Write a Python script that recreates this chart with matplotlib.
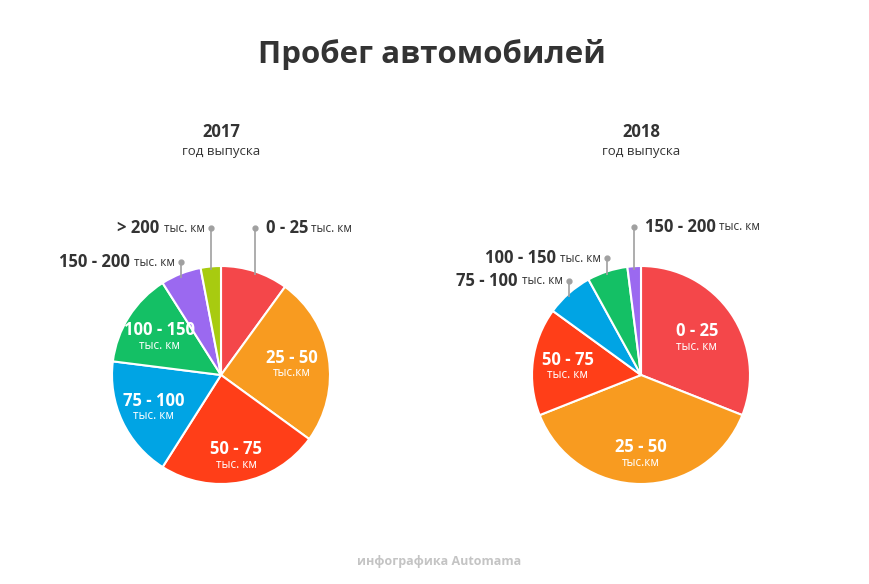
import matplotlib
matplotlib.use("Agg")
import matplotlib.pyplot as plt
import numpy as np

plt.rcParams["font.family"] = ["Open Sans", "DejaVu Sans"]

W, H = 870, 584

# --- data (share of cars, %) ---
ranges = ["0 - 25", "25 - 50", "50 - 75", "75 - 100", "100 - 150", "150 - 200", "> 200"]
units = ["тыс. км", "тыс.км", "тыс. км", "тыс. км", "тыс. км", "тыс. км", "тыс. км"]
share_2017 = [10, 25, 24, 18, 14, 6, 3]
share_2018 = [31, 38, 16, 7, 6, 2]
colors = ["#F4474A", "#F89B20", "#FF3E18", "#00A4E4", "#14C065", "#9B69F0", "#A8CB10"]

# which slices are labelled inside (radial fraction) vs outside (leader line top y, side)
inside_2017 = {1: 0.66, 2: 0.75, 3: 0.68, 4: 0.67}
outside_2017 = {0: (228, "right"), 6: (228, "left"), 5: (262, "left")}
inside_2018 = {0: 0.62, 1: 0.72, 2: 0.68}
outside_2018 = {5: (227, "right"), 4: (258, "left"), 3: (281, "left")}

DARK = "#333333"
BIG = "bold"

fig = plt.figure(figsize=(W / 100, H / 100), dpi=100)
ax = fig.add_axes([0, 0, 1, 1])


def Y(py):
    return H - py


def draw_pie(cx, cy, r, values, inside, outside, year):
    wedges, _ = ax.pie(values, colors=colors[:len(values)], startangle=90,
                       counterclock=False, center=(cx, Y(cy)), radius=r,
                       wedgeprops=dict(edgecolor="white", linewidth=1.5))
    for i, w in enumerate(wedges):
        mid = np.deg2rad((w.theta1 + w.theta2) / 2)
        if i in inside:
            d = inside[i] * r
            x, y = cx + d * np.cos(mid), Y(cy) + d * np.sin(mid)
            ax.text(x, y + 6, ranges[i], color="white", fontsize=12,
                    fontweight=BIG, ha="center", va="center")
            ax.text(x, y - 9.2, units[i], color="white", fontsize=8.5,
                    ha="center", va="center")
        elif i in outside:
            ty, side = outside[i]
            x0 = cx + r * np.cos(mid)
            y0 = Y(cy) + r * np.sin(mid)
            ax.plot([x0, x0], [y0 - 4, Y(ty)], color="#a0a0a0", lw=1.2,
                    solid_capstyle="butt")
            ax.plot(x0, Y(ty), "o", color="#a0a0a0", ms=3.5)
            if side == "right":
                t = ax.text(x0 + 11, Y(ty), ranges[i], color=DARK, fontsize=12,
                            fontweight=BIG, ha="left", va="center")
                ax.annotate(" " + units[i], xycoords=t, xy=(1, 0.5),
                            color=DARK, fontsize=8.5, ha="left", va="center")
            else:
                t = ax.text(x0 - 6, Y(ty), units[i], color=DARK, fontsize=8.5,
                            ha="right", va="center")
                ax.annotate(ranges[i] + " ", xycoords=t, xy=(0, 0.5),
                            color=DARK, fontsize=12, fontweight=BIG,
                            ha="right", va="center")
    ax.text(cx, Y(132), year, color=DARK, fontsize=12, fontweight=BIG,
            ha="center", va="center")
    ax.text(cx, Y(152), "год выпуска", color=DARK, fontsize=9.5,
            ha="center", va="center")


draw_pie(221, 375, 109, share_2017, inside_2017, outside_2017, "2017")
draw_pie(641, 375, 109, share_2018, inside_2018, outside_2018, "2018")

ax.text(432, Y(54), "Пробег автомобилей", color=DARK, fontsize=22.5,
        fontweight=BIG, ha="center", va="center")
ax.text(439, Y(562), "инфографика Automama", color="#c4c4c4", fontsize=9,
        fontweight="bold", ha="center", va="center")

ax.set_xlim(0, W)
ax.set_ylim(0, H)
ax.set_aspect("equal")
ax.axis("off")

fig.savefig("out.png", dpi=100)
